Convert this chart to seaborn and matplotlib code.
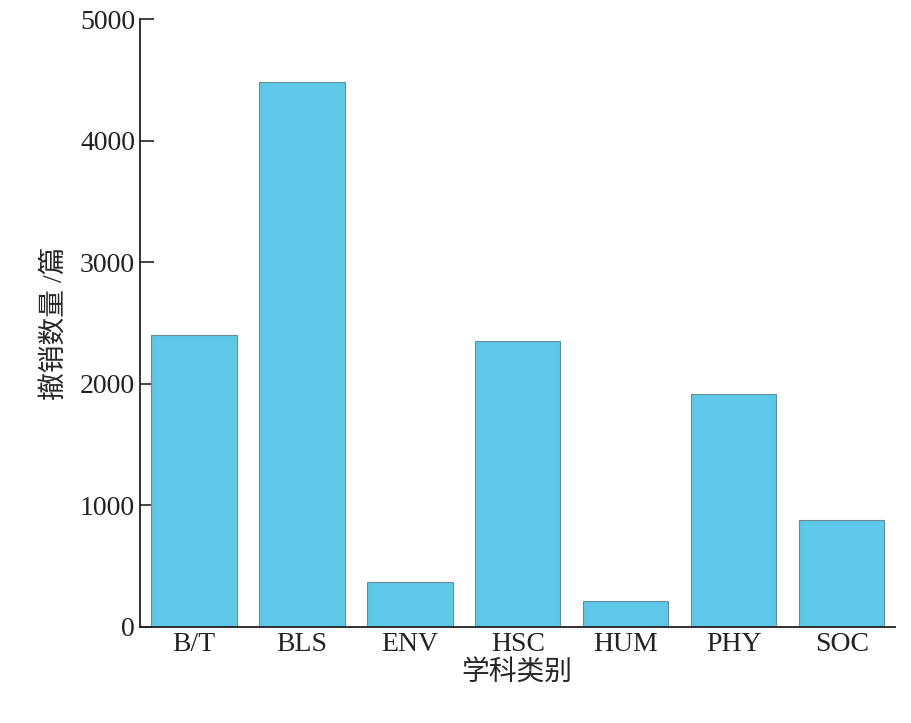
import matplotlib
matplotlib.use("Agg")
import matplotlib.pyplot as plt
import seaborn as sns
import pandas as pd

categories = ["B/T", "BLS", "ENV", "HSC", "HUM", "PHY", "SOC"]
values = [2401, 4482, 370, 2352, 214, 1916, 880]

sns.set_style("ticks")
plt.rcParams['font.family'] = ['Liberation Serif', 'Noto Sans CJK SC']

df = pd.DataFrame({"cat": categories, "val": values})
fig = plt.figure(figsize=(9.11, 7.23), dpi=100)
ax = fig.add_axes([0.1537, 0.1328, 0.8283, 0.8409])
sns.barplot(data=df, x="cat", y="val", color="#5ec8e8", saturation=1,
            edgecolor="#6a8a96", linewidth=0.8, width=0.79, ax=ax)
ax.set_xlim(-0.5, 6.49)
ax.set_ylim(0, 5000)
ax.set_yticks([0, 1000, 2000, 3000, 4000, 5000])
ax.tick_params(direction="in", labelsize=20, length=10, width=1.2, colors="#222222")
for s in ["top", "right"]:
    ax.spines[s].set_visible(False)
for s in ["left", "bottom"]:
    ax.spines[s].set_linewidth(1.3)
    ax.spines[s].set_color("#222222")
ax.set_xlabel("学科类别", fontsize=20, labelpad=2)
ax.set_ylabel("撤销数量 /篇", fontsize=20, labelpad=8)
fig.savefig("out.png", dpi=100)
